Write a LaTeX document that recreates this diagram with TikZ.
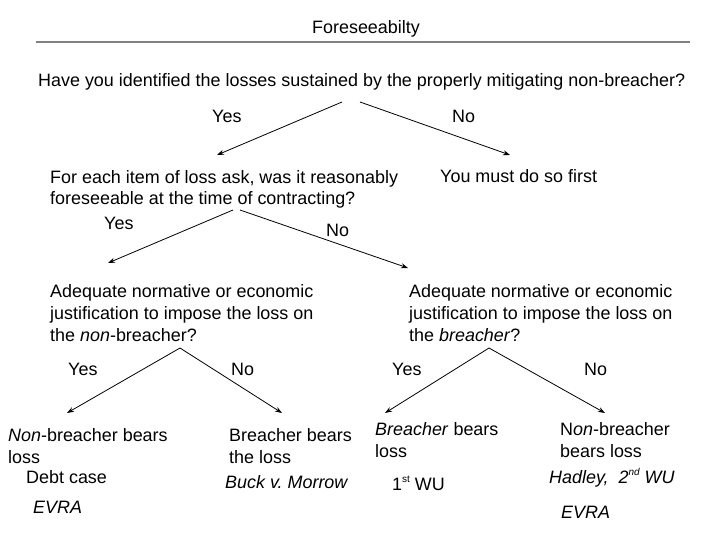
\documentclass[tikz,border=0pt]{standalone}
\usepackage{fontspec}
\setmainfont{Liberation Sans}
\usetikzlibrary{shapes,arrows.meta,positioning,calc}

\newcommand{\upsc}[1]{\raisebox{0.42em}{\fontsize{10}{10}\selectfont #1}}

\begin{document}
\begin{tikzpicture}[
    x=1bp, y=-1bp,
    txt/.style={anchor=base west, align=left, inner sep=0pt, font=\fontsize{18}{22}\selectfont},
    answer/.style={anchor=base west, inner sep=0pt, font=\fontsize{18}{22}\selectfont},
    arrow/.style={-{Stealth[length=7bp, width=5bp]}, line width=0.8bp},
]
\useasboundingbox (0,0) rectangle (720,540);

% Heading
\node[answer, anchor=base] (title) at (366,34) {Foreseeabilty};
\draw[gray, line width=1.2bp] (36,42) -- (690,42);

% Level 1: identify the losses
\node[txt] (identified) at (38,87) {Have you identified the losses sustained by the properly mitigating non-breacher?};
\coordinate (idL) at (342,102);
\coordinate (idR) at (360,102);

% Level 2 (base anchor = last line)
\node[txt] (foresee) at (50,205) {For each item of loss ask, was it reasonably\\foreseeable at the time of contracting?};
\node[txt] (mustdo) at (440,183) {You must do so first};
\coordinate (foreseeTip) at (217,155);
\coordinate (mustdoTip) at (510,155);
\coordinate (fsL) at (233,210);
\coordinate (fsR) at (240,210);

% Level 3: justification
\node[txt] (onNon) at (50,341) {Adequate normative or economic\\justification to impose the loss on\\the \textit{non}-breacher?};
\node[txt] (onBr) at (409,341) {Adequate normative or economic\\justification to impose the loss on\\the \textit{breacher}?};
\coordinate (onNonTip) at (108,263);
\coordinate (onBrTip) at (408,268);
\coordinate (onNonApex) at (180,348);
\coordinate (onBrApex) at (489,348);

% Level 4: outcomes
\node[txt] (nonBears) at (8,463) {\textit{Non}-breacher bears\\loss};
\node[txt] (debt) at (26,483) {Debt case};
\node[txt] (evraL) at (33,513) {\textit{EVRA}};
\node[txt] (brBears) at (229,463) {Breacher bears\\the loss};
\node[txt] (buck) at (225,488) {\textit{Buck v.\ Morrow}};
\node[txt] (brBears2) at (375,457) {\textit{Breacher} bears\\loss};
\node[txt] (firstWU) at (392,490) {1\upsc{st} WU};
\node[txt] (nonBears2) at (560,457) {N\textit{on}-breacher\\bears loss};
\node[txt] (hadley) at (549,483) {\textit{Hadley,\ \ 2\upsc{nd} WU}};
\node[txt] (evraR) at (561,518) {\textit{EVRA}};
\coordinate (nonBearsTip) at (67,413);
\coordinate (brBearsTip) at (282,413);
\coordinate (brBears2Tip) at (385,413);
\coordinate (nonBears2Tip) at (605,413);

% Arrows
\draw[arrow] (idL) -- (foreseeTip);
\draw[arrow] (idR) -- (mustdoTip);
\draw[arrow] (fsL) -- (onNonTip);
\draw[arrow] (fsR) -- (onBrTip);
\draw[arrow] (onNonApex) -- (nonBearsTip);
\draw[arrow] (onNonApex) -- (brBearsTip);
\draw[arrow] (onBrApex) -- (brBears2Tip);
\draw[arrow] (onBrApex) -- (nonBears2Tip);

% Yes / No labels
\node[answer] (yes1) at (212,123) {Yes};
\node[answer] (no1) at (452,123) {No};
\node[answer] (yes2) at (104,230) {Yes};
\node[answer] (no2) at (326,237) {No};
\node[answer] (yes3) at (68,375) {Yes};
\node[answer] (no3) at (231,375) {No};
\node[answer] (yes4) at (392,375) {Yes};
\node[answer] (no4) at (584,375) {No};

\end{tikzpicture}
\end{document}
